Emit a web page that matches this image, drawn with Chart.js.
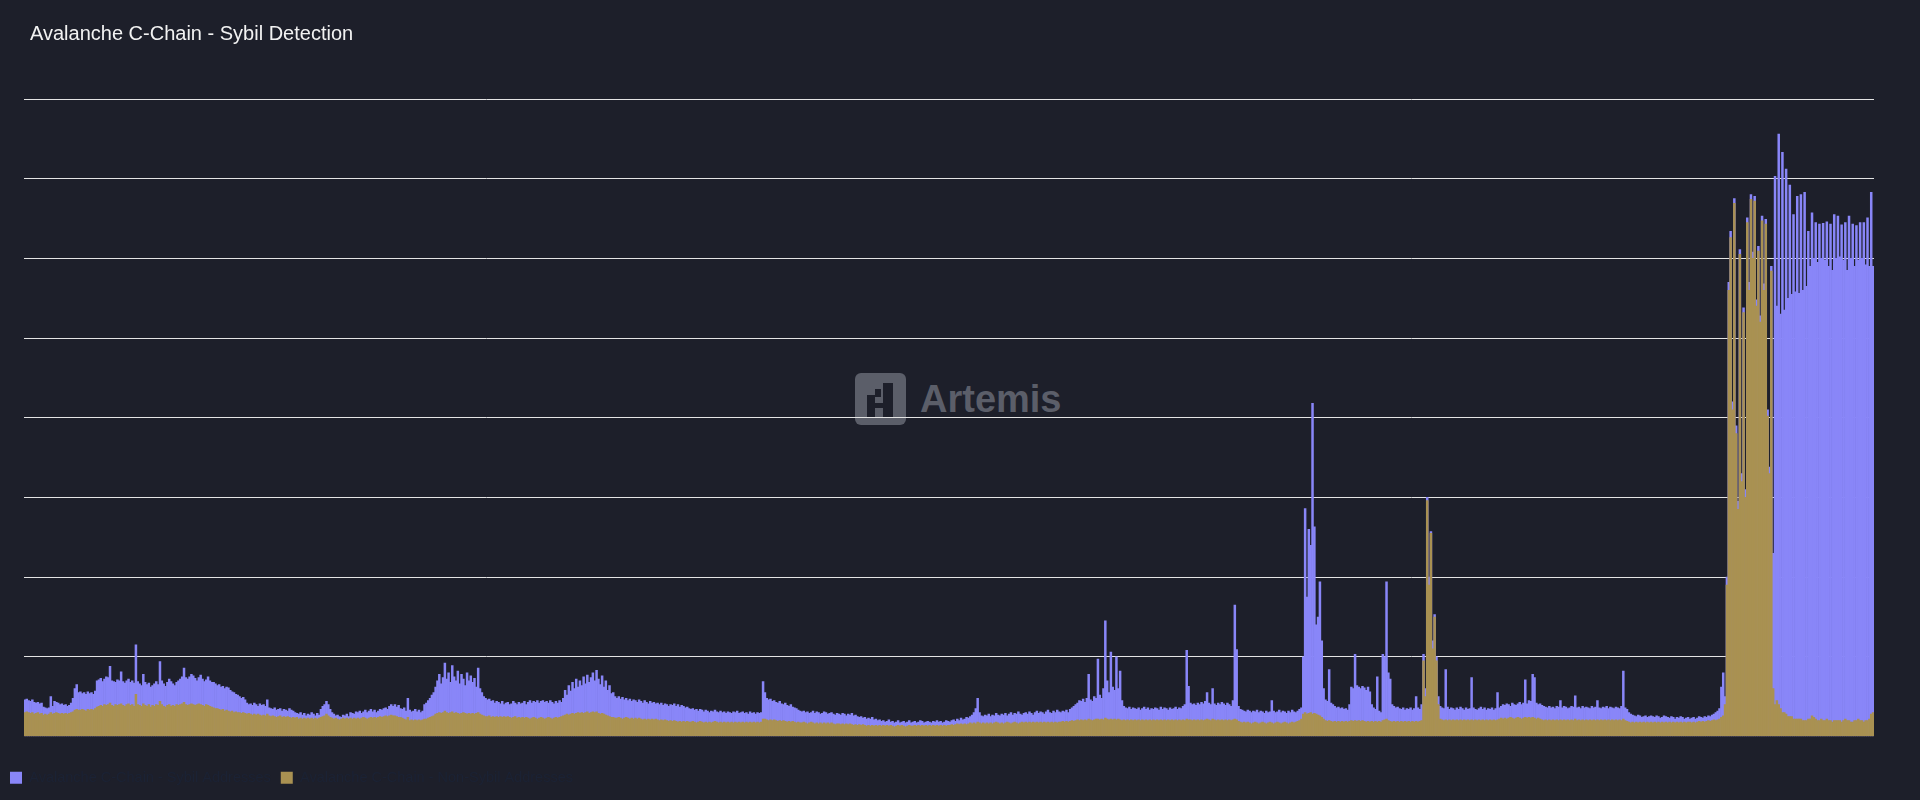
<!DOCTYPE html>
<html>
<head>
<meta charset="utf-8">
<script src="https://cdn.jsdelivr.net/npm/chart.js@4.4.1/dist/chart.umd.min.js"></script>
<style>
  html, body { margin: 0; padding: 0; background: #1d1f2a; }
  #wrap { position: relative; width: 1920px; height: 800px; overflow: hidden; background: #1d1f2a; }
  #title { position: absolute; left: 30px; top: 23px; font-family: "Liberation Sans", Arial, sans-serif; font-size: 20px; line-height: 20px; color: #f2f2f2; white-space: nowrap; }
  #wm { position: absolute; left: 855px; top: 373px; width: 260px; height: 52px; }
  #wm .box { position: absolute; left: 0; top: 0; width: 51px; height: 52px; border-radius: 6px; background: #5b5e69; }
  #wm .px { position: absolute; background: #1d1f2a; }
  #wm .txt { position: absolute; left: 65px; top: 4px; font-family: "Liberation Sans", Arial, sans-serif; font-weight: bold; font-size: 38px; line-height: 44px; color: #5b5e69; }
  canvas { position: absolute; left: 0; top: 0; }
</style>
</head>
<body>
<div id="wrap">
  <div id="wm">
    <div class="box"></div>
    <div class="px" style="left:28px;top:10px;width:10px;height:34px;"></div>
    <div class="px" style="left:12px;top:22px;width:8px;height:22px;"></div>
    <div class="px" style="left:20px;top:16px;width:6px;height:8px;"></div>
    <div class="px" style="left:12px;top:30px;width:26px;height:5px;"></div>
    <div class="txt">Artemis</div>
  </div>
  <canvas id="c" width="1920" height="800"></canvas>
  <div id="title">Avalanche C-Chain - Sybil Detection</div>
</div>
<script>
// Series names (legend)
const seriesNames = ["Avalanche C-Chain - Sybil Addresses", "Avalanche C-Chain - Non-Sybil Addresses"];

// Purple bars (height, grid step = 100)
const purpleValues = [
46,47,45,44,46,43,42,43,41,42,37,36,35,36,50,38,44,43,42,40,
41,39,40,38,39,42,48,60,65,55,56,54,55,53,56,54,55,53,57,70,
71,73,69,72,75,74,88,70,69,68,71,70,81,69,67,70,72,68,70,67,
115,69,66,64,78,68,65,67,62,64,66,69,65,94,70,66,63,68,72,69,
66,64,68,70,72,75,86,74,72,75,78,76,73,70,74,77,72,69,71,75,
70,68,68,66,64,65,62,63,60,62,61,58,56,55,53,52,50,48,49,46,
42,40,41,39,42,40,38,41,39,40,38,46,36,35,34,36,33,34,35,32,
34,33,32,35,33,32,30,29,28,30,27,29,26,28,27,30,28,26,29,27,
34,38,40,44,40,34,30,28,26,27,25,24,27,26,28,25,30,29,28,31,
30,32,29,31,33,30,32,34,31,33,30,32,34,33,35,36,34,38,40,38,
40,37,39,35,34,36,32,48,33,31,32,34,31,33,30,32,40,42,45,48,
52,55,62,70,78,66,74,92,72,80,68,89,75,70,82,66,78,72,64,80,
70,76,68,73,62,86,60,55,50,48,46,47,44,45,42,44,43,41,44,40,
42,43,40,41,44,42,40,43,41,42,44,40,43,45,42,44,43,45,42,44,
45,43,44,42,45,43,41,44,42,45,43,48,58,52,64,57,68,60,72,62,
70,64,75,66,77,68,74,80,70,83,72,65,76,62,70,58,64,54,55,50,
48,50,47,49,46,48,45,47,44,46,45,43,46,44,42,45,43,41,44,42,
43,41,42,40,42,39,41,40,38,40,39,41,38,40,37,39,38,36,37,35,
34,35,33,34,32,34,33,31,33,32,30,32,31,33,31,30,32,30,31,29,
31,30,29,31,30,32,29,30,31,29,30,28,31,29,30,28,30,29,30,69,
55,48,46,47,44,45,43,42,44,41,40,42,39,38,40,37,36,35,33,32,
31,32,30,31,29,30,32,29,31,30,28,29,31,30,28,29,30,28,27,29,
28,27,29,28,26,28,27,29,26,27,25,24,25,23,24,22,23,22,24,21,
22,20,21,19,20,18,19,21,18,19,17,18,20,17,18,19,17,18,20,17,
18,19,17,18,20,19,17,18,19,18,17,19,18,20,18,19,17,18,20,19,
18,20,21,19,22,20,23,21,22,24,23,25,27,30,35,48,30,26,25,27,
26,28,25,27,26,29,27,26,28,27,29,26,28,30,27,29,28,31,28,27,
29,30,28,31,29,27,30,32,29,31,30,28,31,33,30,29,32,30,33,31,
30,32,31,33,30,34,36,38,40,42,45,44,47,43,48,78,46,44,50,48,
97,52,48,60,145,70,55,106,62,58,100,60,82,45,38,36,35,37,34,36,
35,34,36,33,35,37,34,36,33,35,34,36,35,33,37,34,36,35,33,36,
34,35,37,34,36,35,38,40,108,63,42,40,41,39,42,40,43,41,44,55,
42,40,60,41,39,42,40,43,41,39,42,40,38,45,165,109,38,34,33,32,
31,33,32,30,32,31,33,30,32,31,29,32,30,31,45,32,30,31,33,30,
32,31,29,32,30,33,31,30,32,34,36,100,286,175,260,240,418,263,140,150,
194,120,60,46,44,84,42,40,38,36,37,35,36,34,35,33,40,62,60,103,
64,62,60,63,61,58,62,56,40,36,34,75,32,30,103,100,194,80,72,40,
38,36,37,35,34,36,33,35,34,36,33,35,50,36,34,40,103,60,300,200,
257,120,153,100,50,38,36,35,84,37,34,36,35,33,36,34,37,35,33,36,
34,35,74,36,34,33,35,37,34,36,33,35,34,36,33,35,55,36,38,40,
39,41,40,38,42,40,39,41,43,40,42,71,41,45,44,78,74,42,40,41,
39,38,37,36,38,36,37,35,38,37,45,36,38,37,35,36,38,37,51,36,
37,35,38,36,37,36,35,38,36,37,45,36,35,37,36,38,35,37,36,35,
37,36,35,38,82,36,34,30,28,27,26,25,27,26,24,25,26,24,25,26,
25,24,26,25,23,24,26,25,24,23,25,24,22,24,23,25,24,22,23,24,
22,23,24,22,23,25,24,23,25,24,26,25,27,28,30,32,35,62,80,50,
200,570,634,420,675,390,295,611,330,538,310,651,570,680,608,678,548,615,528,653,
568,649,410,338,590,230,703,540,756,530,733,535,712,550,692,555,655,558,678,556,
680,560,683,565,634,590,657,600,645,595,643,600,644,598,646,590,643,585,655,600,
653,602,642,598,645,585,653,600,643,590,641,598,645,600,645,592,651,590,683,590
];

// Gold bars (height, drawn in front of the purple bars)
const goldValues = [
30,31,30,29,30,28,29,30,28,29,27,28,27,28,30,28,29,30,29,28,
29,28,29,28,29,30,31,33,34,33,33,34,33,32,34,33,34,33,35,37,
38,39,38,40,39,40,42,39,38,40,39,40,41,39,38,40,41,39,40,38,
53,40,39,38,41,39,38,40,37,39,38,40,39,44,40,38,37,39,40,38,
39,38,40,39,40,41,43,40,39,40,41,40,39,40,41,40,39,38,40,39,
38,37,36,35,35,34,33,34,32,33,32,31,32,30,31,30,30,29,30,29,
28,29,28,27,28,27,28,27,26,27,26,28,26,25,26,25,24,25,26,24,
25,24,25,24,23,24,23,24,22,23,22,23,22,23,22,23,22,23,22,23,
24,25,26,28,26,24,23,22,23,22,21,22,23,22,23,22,23,22,23,22,
23,22,23,24,23,22,23,24,23,24,23,24,25,24,25,26,25,26,27,26,
26,25,24,24,23,22,21,24,20,21,20,21,20,21,20,21,22,22,23,24,
25,26,28,29,30,29,30,32,30,29,30,31,29,30,29,28,29,30,29,28,
29,28,29,28,29,30,28,27,26,25,25,26,24,25,24,25,24,25,24,25,
24,25,24,23,24,25,23,24,23,24,23,24,23,22,23,24,23,22,23,24,
23,22,23,24,23,22,23,24,23,24,25,26,27,28,27,28,29,28,29,30,
29,30,29,30,31,29,30,31,30,31,29,28,29,28,27,26,25,24,24,23,
23,24,23,22,23,24,23,22,23,22,23,22,23,22,21,22,21,22,21,22,
21,22,21,20,21,20,21,20,19,20,19,20,19,18,19,18,19,18,19,18,
18,19,18,17,18,19,18,17,18,17,18,17,18,19,18,17,18,17,18,17,
18,17,18,17,18,17,18,17,18,17,18,17,18,17,18,17,18,17,18,22,
22,21,20,21,20,21,20,19,20,19,20,19,18,19,18,19,18,17,18,17,
17,18,17,16,17,18,17,16,17,16,17,16,17,16,17,16,17,16,15,16,
16,15,16,15,16,15,16,15,14,15,14,15,14,15,14,13,14,13,14,13,
14,13,14,13,14,13,14,13,14,13,12,13,14,13,14,13,12,13,14,13,
13,14,13,14,13,14,13,14,13,14,13,14,13,14,13,14,13,14,13,14,
14,15,14,15,16,15,16,15,16,15,16,17,16,17,16,18,17,16,17,16,
17,16,17,16,17,18,17,16,17,16,17,18,17,16,17,18,17,16,17,18,
17,18,17,18,17,18,17,18,17,18,17,18,17,18,17,18,17,18,17,18,
18,19,18,19,18,19,20,19,20,21,20,21,20,21,20,22,21,20,21,22,
22,21,22,21,23,22,21,22,21,22,21,22,21,20,21,20,21,20,21,20,
21,20,21,20,21,20,21,20,21,20,21,20,21,20,21,20,21,20,21,20,
21,20,21,20,21,20,21,20,22,21,21,20,21,20,21,20,21,20,21,22,
21,20,22,21,20,21,20,21,20,21,20,21,20,21,22,21,19,18,17,18,
17,18,17,16,17,18,17,16,17,18,17,16,17,18,17,16,17,18,17,16,
17,18,17,16,17,18,17,18,19,20,22,28,30,28,29,30,28,29,28,27,
26,24,22,20,19,20,19,18,19,18,19,18,19,18,19,18,19,20,19,20,
19,20,19,20,19,18,19,18,19,18,19,18,19,18,20,21,22,20,19,18,
19,18,19,18,19,18,19,18,19,18,19,18,19,18,19,20,95,50,296,190,
255,110,150,95,40,22,21,20,21,20,21,20,21,20,21,20,21,20,21,20,
21,20,21,20,21,20,21,20,21,20,21,20,21,20,21,20,21,22,23,22,
23,22,23,24,23,22,23,24,23,22,23,24,23,24,23,24,23,22,23,22,
21,20,21,20,21,20,21,20,21,20,21,20,21,20,21,20,21,20,22,20,
21,20,21,20,21,20,21,20,21,20,21,20,21,20,21,20,21,20,21,20,
21,20,21,20,22,20,19,18,17,18,17,18,17,18,17,18,17,18,17,18,
17,18,17,18,17,18,17,18,17,18,17,18,17,18,17,18,17,18,17,18,
18,17,18,17,18,19,18,19,18,19,20,19,20,21,20,21,22,24,26,40,
190,560,626,410,669,380,285,605,320,532,300,645,560,674,600,672,540,609,520,647,
560,643,402,330,584,60,40,45,40,35,30,30,28,25,25,25,22,22,22,22,
22,20,20,20,22,22,26,24,22,20,20,22,20,20,22,20,20,18,20,20,
20,20,18,20,22,20,20,18,18,20,20,22,20,20,18,20,20,22,28,30
];

// Categories: one bar per period
const categories = purpleValues.map((_, i) => String(i + 1));

// Y axis range (grid lines only, no labels shown)
const yMax = 800;
const yStep = 100;

const purpleColor = '#8986f8';
const goldColor = '#a99152';

new Chart(document.getElementById('c'), {
  type: 'bar',
  data: {
    labels: categories,
    datasets: [
      { label: seriesNames[1], data: goldValues, backgroundColor: goldColor, borderWidth: 0,
        barPercentage: 1, categoryPercentage: 1, order: 0 },
      { label: seriesNames[0], data: purpleValues, backgroundColor: purpleColor, borderWidth: 0,
        barPercentage: 1, categoryPercentage: 1, order: 1 }
    ]
  },
  options: {
    responsive: false,
    devicePixelRatio: 1,
    animation: false,
    layout: { padding: { left: 0, right: 46, top: 99, bottom: 5 } },
    plugins: {
      legend: {
        display: true,
        position: 'bottom',
        align: 'start',
        reverse: true,
        labels: {
          boxWidth: 12, boxHeight: 12, padding: 10,
          color: '#1b2234',
          font: { family: '"Liberation Sans", Arial, sans-serif', size: 14.5 }
        }
      },
      tooltip: { enabled: false },
      title: { display: false }
    },
    scales: {
      x: {
        stacked: true,
        display: true,
        grid: { display: false, drawTicks: false },
        border: { display: false },
        ticks: { display: false },
        afterFit: (s) => { s.height = 24; }
      },
      y: {
        stacked: false,
        min: 0, max: yMax,
        grid: {
          color: (ctx) => (ctx.tick && ctx.tick.value === 0) ? 'rgba(0,0,0,0)' : '#e4e4e4',
          lineWidth: 1,
          drawTicks: false
        },
        border: { display: false },
        ticks: { display: false, stepSize: yStep },
        afterFit: (s) => { s.width = 24; }
      }
    }
  }
});
</script>
</body>
</html>
